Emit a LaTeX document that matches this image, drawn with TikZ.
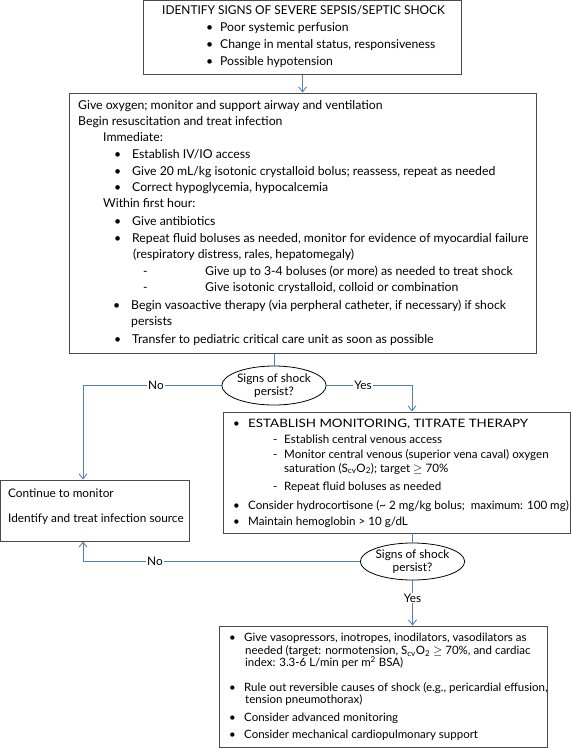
\documentclass[tikz,border=0pt]{standalone}
\usepackage{fontspec}
\setmainfont{Lato}
\usetikzlibrary{arrows.meta,shapes.geometric}
\definecolor{cblue}{HTML}{4F81BD}
\definecolor{cgray}{HTML}{4A4A4A}
\newcommand\fsA{\fontsize{12.2}{14}\selectfont}
\newcommand\fsB{\fontsize{12.25}{14}\selectfont}
\newcommand\fsC{\fontsize{11.8}{13}\selectfont}
\newcommand\fsR{\fontsize{11.6}{13}\selectfont}
\newcommand\fsD{\fontsize{11.5}{13}\selectfont}
\newcommand\tline[5]{\node[txt,font=#2] (#1) at (#3,#4) {#5};}
\newcommand\geqs{\ensuremath{\geq}}
\tikzset{
  boxst/.style={draw=cgray, line width=0.9pt, rectangle, inner sep=0pt},
  ell/.style={draw=black, ellipse, line width=0.8pt, inner sep=0pt, align=center, font=\fsC},
  conn/.style={draw=cblue, line width=0.9pt},
  arr/.style={conn, -{Straight Barb[length=5pt,width=8pt,line width=0.9pt]}},
  txt/.style={anchor=base west, inner sep=0pt, text height=7.5pt, text depth=1.5pt},
  lbl/.style={fill=white, inner sep=1pt, font=\fsC},
}
\begin{document}
\begin{tikzpicture}[x=1pt,y=-1pt]
\useasboundingbox (0,0) rectangle (571,748);
% boxes
\node[boxst, minimum width=318pt, minimum height=74pt] (top) at (302.5,37.5) {};
\node[boxst, minimum width=467pt, minimum height=260pt] (big) at (302.5,223) {};
\node[boxst, minimum width=188.5pt, minimum height=61pt] (lb) at (94.75,510.5) {};
\node[boxst, minimum width=347pt, minimum height=121pt] (rb) at (396.5,472.5) {};
\node[boxst, minimum width=328pt, minimum height=121pt] (bb) at (383,686.5) {};
\node[ell, minimum width=102pt, minimum height=39pt] (e1) at (274,385.5) {Signs of shock\\persist?};
\node[ell, minimum width=101pt, minimum height=37pt] (e2) at (412.5,561.5) {Signs of shock\\persist?};
% connectors
\coordinate (n1) at (83,385.5);
\coordinate (y1) at (412,385.5);
\coordinate (n2) at (83,561.5);
\draw[arr] (top.south) -- (top.south |- big.north);
\draw[conn] (e1.north |- big.south) -- (e1.north);
\draw[arr] (e1.west) -- (n1) -- (n1 |- lb.north);
\draw[arr] (e1.east) -- (y1) -- (y1 |- rb.north);
\draw[conn] (e2.north |- rb.south) -- (e2.north);
\draw[arr] (e2.west) -- (n2) -- (n2 |- lb.south);
\draw[arr] (e2.south) -- (e2.south |- bb.north);
\node[lbl] (no1) at (156,385.5) {No};
\node[lbl] (yes1) at (363,385.5) {Yes};
\node[lbl] (no2) at (155,561.5) {No};
\node[lbl] (yes2) at (412.5,598) {Yes};
% top box text
\tline{a0}{\fsA}{162}{14}{\scalebox{0.975}[1]{IDENTIFY SIGNS OF SEVERE SEPSIS/SEPTIC SHOCK}}
\tline{a1b}{\fsA}{206}{31.5}{\textbullet}
\tline{a1}{\fsA}{220}{31.5}{Poor systemic perfusion}
\tline{a2b}{\fsA}{206}{48}{\textbullet}
\tline{a2}{\fsA}{220}{48}{Change in mental status, responsiveness}
\tline{a3b}{\fsA}{206}{65}{\textbullet}
\tline{a3}{\fsA}{220}{65}{Possible hypotension}
% big box text
\tline{b1}{\fsB}{78}{109}{Give oxygen; monitor and support airway and ventilation}
\tline{b2}{\fsB}{78}{125}{Begin resuscitation and treat infection}
\tline{b3}{\fsB}{103}{141}{Immediate:}
\tline{b4b}{\fsB}{114}{158.5}{\textbullet}
\tline{b4}{\fsB}{132}{158.5}{Establish IV/IO access}
\tline{b5b}{\fsB}{114}{175}{\textbullet}
\tline{b5}{\fsB}{132}{175}{Give 20 mL/kg isotonic crystalloid bolus; reassess, repeat as needed}
\tline{b6b}{\fsB}{114}{191.5}{\textbullet}
\tline{b6}{\fsB}{132}{191.5}{Correct hypoglycemia, hypocalcemia}
\tline{b7}{\fsB}{103}{207.5}{Within first hour:}
\tline{b8b}{\fsB}{114}{225.5}{\textbullet}
\tline{b8}{\fsB}{132}{225.5}{Give antibiotics}
\tline{b9b}{\fsB}{114}{242}{\textbullet}
\tline{b9}{\fsB}{132}{242}{Repeat fluid boluses as needed, monitor for evidence of myocardial failure}
\tline{b10}{\fsB}{133}{258}{(respiratory distress, rales, hepatomegaly)}
\tline{b11d}{\fsB}{143}{275}{-}
\tline{b11}{\fsB}{205}{275}{Give up to 3-4 boluses (or more) as needed to treat shock}
\tline{b12d}{\fsB}{143}{291}{-}
\tline{b12}{\fsB}{205}{291}{Give isotonic crystalloid, colloid or combination}
\tline{b13b}{\fsB}{113}{309}{\textbullet}
\tline{b13}{\fsB}{131}{309}{Begin vasoactive therapy (via perpheral catheter, if necessary) if shock}
\tline{b14}{\fsB}{131}{325}{persists}
\tline{b15b}{\fsB}{114}{343}{\textbullet}
\tline{b15}{\fsB}{132}{343}{Transfer to pediatric critical care unit as soon as possible}
% left box text
\tline{c1}{\fsC}{8}{497}{Continue to monitor}
\tline{c2}{\fsC}{8}{522}{Identify and treat infection source}
% right box text
\tline{d1b}{\fsR}{233}{427}{\textbullet}
\tline{d1}{\fsR}{248}{427}{\scalebox{1.155}[1]{ESTABLISH MONITORING, TITRATE THERAPY}}
\tline{d2d}{\fsR}{273}{443}{-}
\tline{d2}{\fsR}{284}{443}{Establish central venous access}
\tline{d3d}{\fsR}{273}{458.5}{-}
\tline{d3}{\fsR}{284}{458.5}{Monitor central venous (superior vena caval) oxygen}
\tline{d4}{\fsR}{284}{472}{saturation (S\textsubscript{cv}O\textsubscript{2}); target \geqs{} 70\%}
\tline{d5d}{\fsR}{273}{490}{-}
\tline{d5}{\fsR}{284}{490}{Repeat fluid boluses as needed}
\tline{d6b}{\fsR}{233}{509}{\textbullet}
\tline{d6}{\fsR}{248}{509}{Consider hydrocortisone (\textasciitilde{} 2 mg/kg bolus;\ \ maximum: 100 mg)}
\tline{d7b}{\fsR}{233}{525}{\textbullet}
\tline{d7}{\fsR}{248}{525}{Maintain hemoglobin > 10 g/dL}
% bottom box text
\tline{f1b}{\fsD}{229}{641.5}{\textbullet}
\tline{f1}{\fsD}{244}{641.5}{Give vasopressors, inotropes, inodilators, vasodilators as}
\tline{f2}{\fsD}{245}{654.5}{needed (target: normotension, S\textsubscript{cv}O\textsubscript{2} \geqs{} 70\%, and cardiac}
\tline{f3}{\fsD}{245}{666.5}{index: 3.3-6 L/min per m\textsuperscript{2} BSA)}
\tline{f4b}{\fsD}{229}{691}{\textbullet}
\tline{f4}{\fsD}{244}{691}{Rule out reversible causes of shock (e.g., pericardial effusion,}
\tline{f5}{\fsD}{245}{703.5}{tension pneumothorax)}
\tline{f6b}{\fsD}{229}{721}{\textbullet}
\tline{f6}{\fsD}{244}{721}{Consider advanced monitoring}
\tline{f7b}{\fsD}{229}{738}{\textbullet}
\tline{f7}{\fsD}{244}{738}{Consider mechanical cardiopulmonary support}
\end{tikzpicture}
\end{document}
